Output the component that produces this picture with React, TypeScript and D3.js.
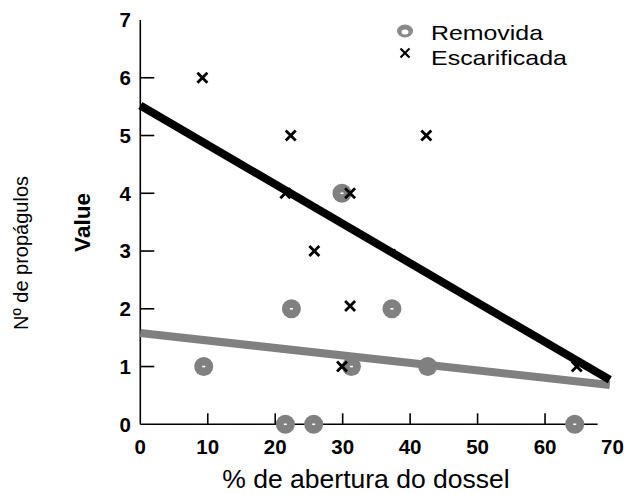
import React from "react";
import { scaleLinear, line } from "d3";

// tick values
const xTicks = [0, 10, 20, 30, 40, 50, 60, 70];
const yTicks = [0, 1, 2, 3, 4, 5, 6, 7];

// Removida (gray circles)
const removidaX = [9.4, 22.4, 29.9, 31.3, 37.3, 42.6, 21.5, 25.7, 64.4];
const removidaY = [1, 2, 4, 1, 2, 1, 0, 0, 0];

// Escarificada (crosses)
const escarificadaX = [9.2, 22.3, 21.5, 31.1, 25.8, 42.4, 31.1, 29.9, 64.7];
const escarificadaY = [6, 5, 4, 4, 3, 5, 2.05, 1, 1];

// fitted lines
const fitX = [0, 69.6];
const escarificadaFit = [5.52, 0.77];
const removidaFit = [1.58, 0.68];

// stray blue mark
const strayX = [37.5];
const strayY = [3];

const FONT = "'Liberation Sans', Arial, sans-serif";

export default function App() {
  const x = scaleLinear().domain([0, 70]).range([140.3, 612.5]);
  const y = scaleLinear().domain([0, 7]).range([424.3, 20]);

  const path = line<number>()
    .x((d, i) => x(fitX[i]))
    .y((d) => y(d));

  return (
    <svg
      width={624}
      height={494}
      style={{ position: "absolute", left: 0, top: 0, background: "white" }}
      fontFamily={FONT}
    >
      {/* axes */}
      <line x1={x(0)} x2={x(67.8)} y1={y(0)} y2={y(0)} stroke="black" strokeWidth={1.6} />
      <line x1={x(0)} x2={x(0)} y1={y(0)} y2={y(7)} stroke="black" strokeWidth={1.6} />
      {xTicks.filter((t) => t > 0 && t < 70).map((t) => (
        <line key={"xt" + t} x1={x(t)} x2={x(t)} y1={y(0)} y2={y(0) - 11} stroke="black" strokeWidth={1.6} />
      ))}
      {yTicks.filter((t) => t > 0 && t < 7).map((t) => (
        <line key={"yt" + t} x1={x(0)} x2={x(0) + 14} y1={y(t)} y2={y(t)} stroke="black" strokeWidth={1.6} />
      ))}
      {xTicks.map((t) => (
        <text key={"xl" + t} x={x(t)} y={454} textAnchor="middle" fontSize={20.5} fontWeight="bold">
          {t}
        </text>
      ))}
      {yTicks.map((t) => (
        <text key={"yl" + t} x={131} y={y(t)} dy="0.36em" textAnchor="end" fontSize={20.5} fontWeight="bold">
          {t}
        </text>
      ))}

      {/* axis titles */}
      <text x={366} y={488} textAnchor="middle" fontSize={26.5}>
        % de abertura do dossel
      </text>
      <text transform="translate(90,222.5) rotate(-90)" textAnchor="middle" fontSize={22.5} fontWeight="bold">
        Value
      </text>
      <text transform="translate(28,253) rotate(-90)" textAnchor="middle" fontSize={20}>
        Nº de propágulos
      </text>

      {/* Removida points */}
      {removidaX.map((v, i) => (
        <g key={"r" + i} transform={`translate(${x(v)},${y(removidaY[i])})`}>
          <circle r={9.5} fill="#808080" />
          <rect x={-1.5} y={-0.8} width={3} height={1.6} fill="white" />
        </g>
      ))}

      {/* Escarificada points */}
      {escarificadaX.map((v, i) => (
        <g key={"e" + i} transform={`translate(${x(v)},${y(escarificadaY[i])})`} stroke="black" strokeWidth={2.8}>
          <line x1={-5} y1={-5} x2={5} y2={5} />
          <line x1={-5} y1={5} x2={5} y2={-5} />
        </g>
      ))}

      {strayX.map((v, i) => (
        <line key={"s" + i} x1={x(v) - 2} y1={y(strayY[i]) + 2} x2={x(v) + 2} y2={y(strayY[i]) - 2} stroke="#2020c0" strokeWidth={1.5} />
      ))}

      {/* fitted lines */}
      <path d={path(removidaFit) || ""} stroke="#808080" strokeWidth={8} fill="none" />
      <path d={path(escarificadaFit) || ""} stroke="black" strokeWidth={8} fill="none" />

      {/* legend */}
      <g transform="translate(405,31)">
        <ellipse rx={8} ry={6.5} fill="#8a8a8a" />
        <ellipse cx={0} cy={1} rx={3.5} ry={2.5} fill="white" />
      </g>
      <g transform="translate(405,53)" stroke="black" strokeWidth={2.2}>
        <line x1={-4.5} y1={-4.5} x2={4.5} y2={4.5} />
        <line x1={-4.5} y1={4.5} x2={4.5} y2={-4.5} />
      </g>
      <text x={431} y={39.5} fontSize={21} textLength={112} lengthAdjust="spacingAndGlyphs">
        Removida
      </text>
      <text x={431} y={65} fontSize={21} textLength={136} lengthAdjust="spacingAndGlyphs">
        Escarificada
      </text>
    </svg>
  );
}
